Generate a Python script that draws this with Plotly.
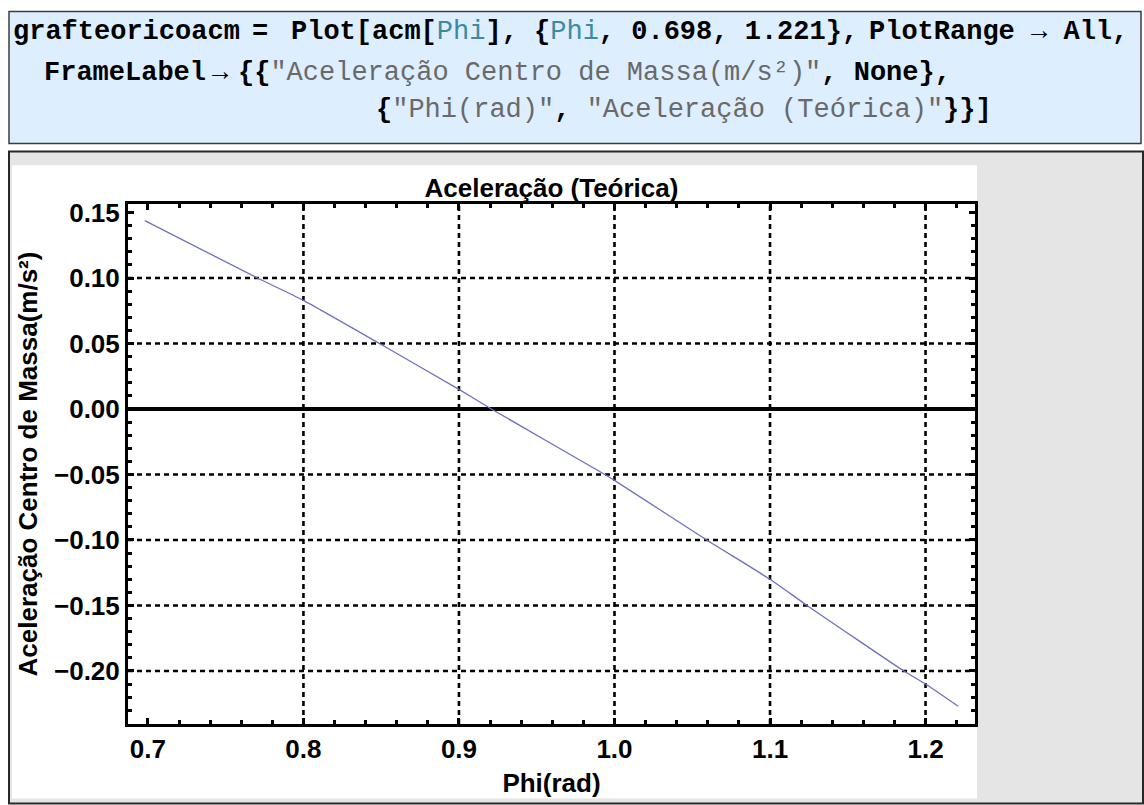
import plotly.graph_objects as go

# ---- data ----
phi = [0.698, 0.7704, 0.800, 0.8503, 0.900, 0.9208, 0.9938, 1.000, 1.0593, 1.100, 1.1238, 1.186, 1.200, 1.221]
acm = [0.1438, 0.100, 0.0829, 0.049, 0.0150, 0.000, -0.050, -0.0545, -0.100, -0.130, -0.150, -0.200, -0.210, -0.227]

x_tick_vals = [0.7, 0.8, 0.9, 1.0, 1.1, 1.2]
x_tick_text = ["0.7", "0.8", "0.9", "1.0", "1.1", "1.2"]
y_tick_vals = [0.15, 0.10, 0.05, 0.00, -0.05, -0.10, -0.15, -0.20]
y_tick_text = ["0.15", "0.10", "0.05", "0.00", "\u22120.05", "\u22120.10", "\u22120.15", "\u22120.20"]
x_grid_vals = [0.8, 0.9, 1.0, 1.1, 1.2]
y_grid_vals = [0.10, 0.05, -0.05, -0.10, -0.15, -0.20]

title_text = "Aceleração (Teórica)"
x_title = "Phi(rad)"
y_title = "Aceleração Centro de Massa(m/s²)"

# ---- page geometry (pixels) ----
FW, FH = 1144, 805
L, R, T, B = 128, 975, 204, 728
PW, PH = R - L, B - T


def px(x):
    return (x - L) / PW


def py(y):
    return (B - y) / PH


SANS = "Liberation Sans, Arial, sans-serif"
MONO = "Liberation Mono, Courier New, monospace"
TEAL = "rgb(60,138,160)"
GRAYS = "rgb(105,105,105)"
LABEL_FS = 26

fig = go.Figure()
fig.add_trace(go.Scatter(x=phi, y=acm, mode="lines",
                         line=dict(color="#6F6FC2", width=1.3, shape="spline", smoothing=0.5),
                         hoverinfo="skip", showlegend=False))

shapes = []
# notebook cell backgrounds
shapes.append(dict(type="rect", xref="paper", yref="paper", layer="below",
                   x0=px(9), x1=px(1141), y0=py(143), y1=py(10),
                   fillcolor="rgb(221,238,255)", line=dict(color="rgb(60,60,60)", width=1.5)))
shapes.append(dict(type="rect", xref="paper", yref="paper", layer="below",
                   x0=px(9), x1=px(1143), y0=py(808), y1=py(151),
                   fillcolor="rgb(229,229,229)", line=dict(color="rgb(40,40,40)", width=2)))
shapes.append(dict(type="rect", xref="paper", yref="paper", layer="below",
                   x0=px(12), x1=px(977), y0=py(803), y1=py(165),
                   fillcolor="white", line=dict(width=0)))
# dotted grid lines
for gx in x_grid_vals:
    shapes.append(dict(type="line", xref="x", yref="paper", layer="below",
                       x0=gx, x1=gx, y0=0, y1=1,
                       line=dict(color="black", width=2.6, dash="5px,4px")))
for gy in y_grid_vals:
    shapes.append(dict(type="line", xref="paper", yref="y", layer="below",
                       x0=0, x1=1, y0=gy, y1=gy,
                       line=dict(color="black", width=2.6, dash="5px,4px")))

# code cell text
FS = 27
LB, RB = "{", "}"
code_lines = [
    (11, 31, "left", "<b>grafteoricoacm</b>"),
    (250, 31, "left", "<b>=</b>"),
    (289, 31, "left", "<b>Plot[acm[</b><span style='color:" + TEAL + "'>Phi</span><b>], " + LB + "</b>"
                      "<span style='color:" + TEAL + "'>Phi</span><b>, 0.698, 1.221" + RB + ",</b>"),
    (1130, 31, "right", "<b>PlotRange → All,</b>"),
    (42, 72, "left", "<b>FrameLabel</b>"),
    (210, 72, "left", "<b>→</b>"),
    (236, 72, "left", "<b>" + LB + LB + "</b><span style='color:" + GRAYS + "'>\"Aceleração Centro de Massa(m/s²)\"</span>"
                      "<b>, None" + RB + ",</b>"),
    (374, 109, "left", "<b>" + LB + "</b><span style='color:" + GRAYS + "'>\"Phi(rad)\"</span><b>, </b>"
                       "<span style='color:" + GRAYS + "'>\"Aceleração (Teórica)\"</span><b>" + RB + RB + "]</b>"),
]
annotations = []
for xx, yy, anc, txt in code_lines:
    annotations.append(dict(xref="paper", yref="paper", x=px(xx), y=py(yy), xanchor=anc, yanchor="middle",
                            text=txt, showarrow=False, font=dict(family=MONO, size=FS, color="black")))

axis_common = dict(showline=True, linecolor="black", linewidth=3, mirror="ticks",
                   ticks="inside", ticklen=6, tickwidth=3, tickcolor="black",
                   showgrid=False,
                   tickfont=dict(family=SANS, size=LABEL_FS, color="black", weight="bold"))

fig.update_layout(
    width=FW, height=FH,
    margin=dict(l=L, r=FW - R, t=T, b=FH - B, pad=0),
    paper_bgcolor="white", plot_bgcolor="white",
    showlegend=False,
    title=dict(text=title_text, x=px(551.5), xref="paper", xanchor="center",
               y=1 - 188 / FH, yref="container", yanchor="middle",
               font=dict(family=SANS, size=LABEL_FS, color="black", weight="bold")),
    xaxis=dict(range=[0.6872, 1.2318], tickvals=x_tick_vals, ticktext=x_tick_text, zeroline=False,
               minor=dict(dtick=0.02, tick0=0.7, ticks="inside", ticklen=4, tickwidth=2.5, tickcolor="black", showgrid=False),
               title=dict(text=x_title, standoff=11, font=dict(family=SANS, size=LABEL_FS, color="black", weight="bold")),
               **axis_common),
    yaxis=dict(range=[-0.2405, 0.1565], tickvals=y_tick_vals, ticktext=y_tick_text,
               zeroline=True, zerolinecolor="black", zerolinewidth=4,
               minor=dict(dtick=0.01, tick0=0, ticks="inside", ticklen=4, tickwidth=2.5, tickcolor="black", showgrid=False),
               title=dict(text=y_title, standoff=9, font=dict(family=SANS, size=LABEL_FS, color="black", weight="bold")),
               **axis_common),
    shapes=shapes,
    annotations=annotations,
)

fig.write_html("out.html", config={"displayModeBar": False},
               post_script="document.body.style.margin='0';document.body.style.overflow='hidden';")
